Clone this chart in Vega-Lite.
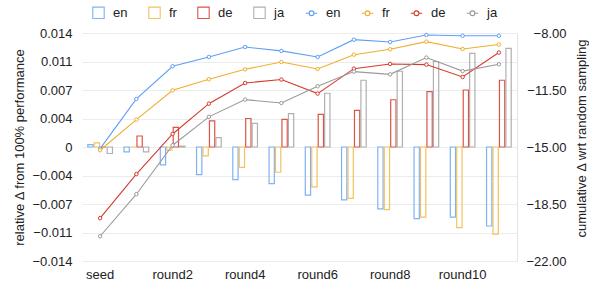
{
  "$schema": "https://vega.github.io/schema/vega-lite/v6.json",
  "width": 435,
  "height": 228,
  "autosize": "none",
  "padding": {"left": 82, "top": 33, "right": 72, "bottom": 30},
  "background": "white",
  "config": {
    "font": "Liberation Sans",
    "view": {"stroke": null},
    "axis": {
      "labelFont": "Liberation Sans",
      "labelFontSize": 13,
      "labelColor": "#222222",
      "titleFont": "Liberation Sans",
      "titleFontSize": 13,
      "titleFontWeight": "normal",
      "titleColor": "#222222",
      "ticks": false,
      "tickSize": 0
    }
  },
  "datasets": {
    "bars": [
      {"r": "seed", "s": "b:en", "v": 0.0003}, {"r": "seed", "s": "b:fr", "v": 0.0005}, {"r": "seed", "s": "b:de", "v": 0}, {"r": "seed", "s": "b:ja", "v": -0.0008},
      {"r": "round1", "s": "b:en", "v": -0.0006}, {"r": "round1", "s": "b:fr", "v": 0}, {"r": "round1", "s": "b:de", "v": 0.00135}, {"r": "round1", "s": "b:ja", "v": -0.0006},
      {"r": "round2", "s": "b:en", "v": -0.0022}, {"r": "round2", "s": "b:fr", "v": -0.0004}, {"r": "round2", "s": "b:de", "v": 0.0024}, {"r": "round2", "s": "b:ja", "v": 0.0001},
      {"r": "round3", "s": "b:en", "v": -0.0034}, {"r": "round3", "s": "b:fr", "v": -0.0011}, {"r": "round3", "s": "b:de", "v": 0.0032}, {"r": "round3", "s": "b:ja", "v": 0.00115},
      {"r": "round4", "s": "b:en", "v": -0.0040}, {"r": "round4", "s": "b:fr", "v": -0.0025}, {"r": "round4", "s": "b:de", "v": 0.0035}, {"r": "round4", "s": "b:ja", "v": 0.0029},
      {"r": "round5", "s": "b:en", "v": -0.0045}, {"r": "round5", "s": "b:fr", "v": -0.0031}, {"r": "round5", "s": "b:de", "v": 0.0034}, {"r": "round5", "s": "b:ja", "v": 0.0041},
      {"r": "round6", "s": "b:en", "v": -0.0059}, {"r": "round6", "s": "b:fr", "v": -0.0049}, {"r": "round6", "s": "b:de", "v": 0.0040}, {"r": "round6", "s": "b:ja", "v": 0.0066},
      {"r": "round7", "s": "b:en", "v": -0.0065}, {"r": "round7", "s": "b:fr", "v": -0.0063}, {"r": "round7", "s": "b:de", "v": 0.0045}, {"r": "round7", "s": "b:ja", "v": 0.0082},
      {"r": "round8", "s": "b:en", "v": -0.0076}, {"r": "round8", "s": "b:fr", "v": -0.0077}, {"r": "round8", "s": "b:de", "v": 0.0058}, {"r": "round8", "s": "b:ja", "v": 0.0093},
      {"r": "round9", "s": "b:en", "v": -0.0088}, {"r": "round9", "s": "b:fr", "v": -0.0086}, {"r": "round9", "s": "b:de", "v": 0.0068}, {"r": "round9", "s": "b:ja", "v": 0.0105},
      {"r": "round10", "s": "b:en", "v": -0.0086}, {"r": "round10", "s": "b:fr", "v": -0.0099}, {"r": "round10", "s": "b:de", "v": 0.0070}, {"r": "round10", "s": "b:ja", "v": 0.0115},
      {"r": "round11", "s": "b:en", "v": -0.0097}, {"r": "round11", "s": "b:fr", "v": -0.0107}, {"r": "round11", "s": "b:de", "v": 0.0082}, {"r": "round11", "s": "b:ja", "v": 0.0121}
    ],
    "lines": [
      {"r": "seed", "s": "l:en", "v": -15.10}, {"r": "seed", "s": "l:fr", "v": -15.20}, {"r": "seed", "s": "l:de", "v": -19.37}, {"r": "seed", "s": "l:ja", "v": -20.48},
      {"r": "round1", "s": "l:en", "v": -12.05}, {"r": "round1", "s": "l:fr", "v": -13.32}, {"r": "round1", "s": "l:de", "v": -16.66}, {"r": "round1", "s": "l:ja", "v": -17.90},
      {"r": "round2", "s": "l:en", "v": -10.04}, {"r": "round2", "s": "l:fr", "v": -11.52}, {"r": "round2", "s": "l:de", "v": -14.20}, {"r": "round2", "s": "l:ja", "v": -14.89},
      {"r": "round3", "s": "l:en", "v": -9.47}, {"r": "round3", "s": "l:fr", "v": -10.84}, {"r": "round3", "s": "l:de", "v": -12.34}, {"r": "round3", "s": "l:ja", "v": -13.15},
      {"r": "round4", "s": "l:en", "v": -8.86}, {"r": "round4", "s": "l:fr", "v": -10.23}, {"r": "round4", "s": "l:de", "v": -11.07}, {"r": "round4", "s": "l:ja", "v": -12.09},
      {"r": "round5", "s": "l:en", "v": -9.10}, {"r": "round5", "s": "l:fr", "v": -9.78}, {"r": "round5", "s": "l:de", "v": -10.86}, {"r": "round5", "s": "l:ja", "v": -12.30},
      {"r": "round6", "s": "l:en", "v": -9.47}, {"r": "round6", "s": "l:fr", "v": -10.21}, {"r": "round6", "s": "l:de", "v": -11.72}, {"r": "round6", "s": "l:ja", "v": -11.27},
      {"r": "round7", "s": "l:en", "v": -8.41}, {"r": "round7", "s": "l:fr", "v": -9.33}, {"r": "round7", "s": "l:de", "v": -10.19}, {"r": "round7", "s": "l:ja", "v": -10.37},
      {"r": "round8", "s": "l:en", "v": -8.55}, {"r": "round8", "s": "l:fr", "v": -9.00}, {"r": "round8", "s": "l:de", "v": -9.90}, {"r": "round8", "s": "l:ja", "v": -10.54},
      {"r": "round9", "s": "l:en", "v": -8.12}, {"r": "round9", "s": "l:fr", "v": -8.53}, {"r": "round9", "s": "l:de", "v": -9.94}, {"r": "round9", "s": "l:ja", "v": -9.51},
      {"r": "round10", "s": "l:en", "v": -8.17}, {"r": "round10", "s": "l:fr", "v": -8.98}, {"r": "round10", "s": "l:de", "v": -10.70}, {"r": "round10", "s": "l:ja", "v": -10.34},
      {"r": "round11", "s": "l:en", "v": -8.17}, {"r": "round11", "s": "l:fr", "v": -8.71}, {"r": "round11", "s": "l:de", "v": -9.20}, {"r": "round11", "s": "l:ja", "v": -9.92}
    ]
  },
  "encoding": {
    "x": {
      "field": "r",
      "type": "nominal",
      "sort": ["seed", "round1", "round2", "round3", "round4", "round5", "round6", "round7", "round8", "round9", "round10", "round11"],
      "scale": {"paddingInner": 0.32, "paddingOuter": 0.16},
      "axis": {
        "title": null,
        "labelAngle": 0,
        "values": ["seed", "round2", "round4", "round6", "round8", "round10"],
        "labelPadding": 7,
        "domain": false,
        "grid": false
      }
    },
    "color": {
      "field": "s",
      "type": "nominal",
      "scale": {
        "domain": ["b:en", "b:fr", "b:de", "b:ja", "l:en", "l:fr", "l:de", "l:ja"],
        "range": ["#7fb2f5", "#f2c261", "#dc5446", "#b0b0b0", "#5f9ff2", "#f0ae2e", "#d63b2b", "#9a9a9a"]
      },
      "legend": {
        "orient": "none",
        "legendX": 10,
        "legendY": -27,
        "direction": "horizontal",
        "columns": 8,
        "title": null,
        "symbolSize": 130,
        "labelOffset": 8,
        "columnPadding": 18,
        "labelFont": "Liberation Sans",
        "labelFontSize": 13,
        "labelColor": "#222222",
        "labelExpr": "substring(datum.label, 2)",
        "encode": {
          "symbols": {
            "update": {
              "shape": {"signal": "substring(datum.value, 0, 1) == 'l' ? 'M-1,0L-0.42,0M0.42,0L1,0M0.42,0A0.42,0.42,0,1,1,-0.42,0A0.42,0.42,0,1,1,0.42,0' : 'square'"},
              "fill": {"value": "white"},
              "fillOpacity": {"value": 1},
              "stroke": {"scale": "color", "field": "value"},
              "strokeWidth": {"value": 1.1}
            }
          }
        }
      }
    }
  },
  "layer": [
    {
      "data": {"name": "bars"},
      "mark": {"type": "bar", "filled": false, "strokeWidth": 1.2},
      "encoding": {
        "xOffset": {"field": "s", "type": "nominal", "scale": {"domain": ["b:en", "b:fr", "b:de", "b:ja"], "paddingInner": 0.18}},
        "y": {
          "field": "v",
          "type": "quantitative",
          "scale": {"domain": [-0.014, 0.014], "nice": false, "zero": false},
          "axis": {
            "title": "relative Δ from 100% performance",
            "values": [-0.014, -0.0105, -0.007, -0.0035, 0, 0.0035, 0.007, 0.0105, 0.014],
            "labelExpr": "datum.value == 0 ? '0' : format(datum.value + (datum.value > 0 ? 1e-9 : -1e-9), '.3f')",
            "labelPadding": 10,
            "domain": false,
            "gridColor": "#ececec",
            "titleX": -63,
            "titleY": 114,
            "titleAngle": -90,
            "titleBaseline": "middle",
            "titleAlign": "center"
          }
        }
      }
    },
    {
      "data": {"name": "lines"},
      "layer": [
        {"mark": {"type": "line", "strokeWidth": 1.1}},
        {"mark": {"type": "point", "filled": false, "fill": "white", "fillOpacity": 1, "opacity": 1, "size": 12, "strokeWidth": 1}}
      ],
      "encoding": {
        "y": {
          "field": "v",
          "type": "quantitative",
          "scale": {"domain": [-22, -8], "nice": false, "zero": false},
          "axis": {
            "orient": "right",
            "title": "cumulative Δ wrt random sampling",
            "values": [-22, -18.5, -15, -11.5, -8],
            "format": ".2f",
            "labelAlign": "right",
            "labelPadding": 49,
            "grid": false,
            "domain": true,
            "domainColor": "#e4e4e4",
            "titleX": 64,
            "titleY": 105,
            "titleAngle": -90,
            "titleBaseline": "middle",
            "titleAlign": "center"
          }
        }
      }
    }
  ],
  "resolve": {"scale": {"y": "independent"}}
}
